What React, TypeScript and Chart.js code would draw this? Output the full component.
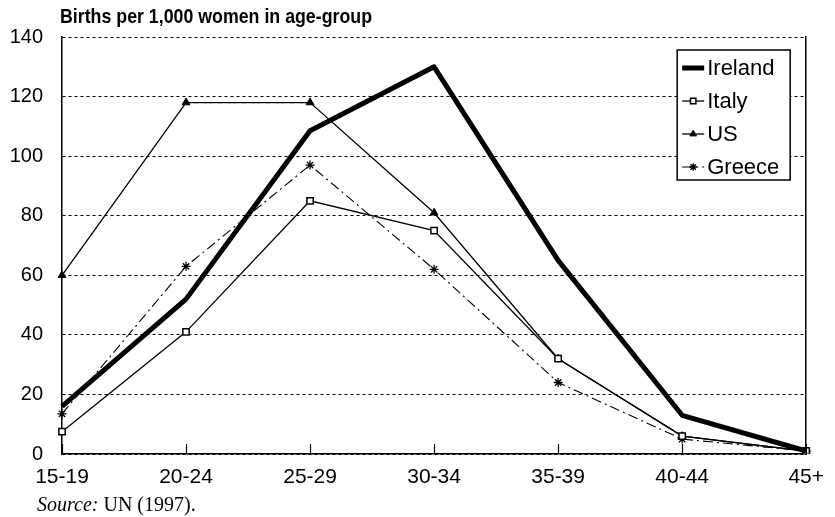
import React, { useEffect, useRef } from 'react';
import { Chart, registerables } from 'chart.js';
import { drawPoint } from 'chart.js/helpers';

Chart.register(...registerables);

const categories = ['15-19', '20-24', '25-29', '30-34', '35-39', '40-44', '45+'];
const irelandValues = [16, 52, 108.5, 130, 65, 13, 1];
const italyValues = [7.5, 41, 85, 75, 32, 6, 1];
const usValues = [60, 118, 118, 81, 32, 6, 1];
const greeceValues = [13.5, 63, 97, 62, 24, 5, 1];
const yMin = 0;
const yMax = 140;
const yStep = 20;
const titleText = 'Births per 1,000 women in age-group';
const sourceLabel = 'Source:';
const sourceText = ' UN (1997).';

const SANS = '"Liberation Sans", Arial, sans-serif';
const SERIF = '"Liberation Serif", "Times New Roman", serif';

const innerTicksPlugin = {
  id: 'innerTicks',
  afterDraw(chart: any) {
    const { ctx, chartArea } = chart;
    const xs = chart.scales.x;
    ctx.save();
    ctx.strokeStyle = '#000';
    ctx.lineWidth = 1.2;
    xs.ticks.forEach((_: any, i: number) => {
      const x = Math.round(xs.getPixelForTick(i)) + 0.5;
      ctx.beginPath();
      ctx.moveTo(x, chartArea.bottom);
      ctx.lineTo(x, chartArea.bottom - 10);
      ctx.stroke();
    });
    ctx.restore();
  },
};

const textPlugin = {
  id: 'extraText',
  afterDraw(chart: any) {
    const { ctx, chartArea } = chart;
    ctx.save();
    ctx.fillStyle = '#000';
    ctx.textBaseline = 'middle';
    ctx.textAlign = 'left';
    ctx.font = `bold 21px ${SANS}`;
    const tw = ctx.measureText(titleText).width;
    const sx = 312 / tw;
    ctx.save();
    ctx.translate(chartArea.left - 2, chartArea.top - 20);
    ctx.scale(sx, 1);
    ctx.fillText(titleText, 0, 0);
    ctx.restore();
    ctx.textBaseline = 'alphabetic';
    ctx.font = `italic 20px ${SERIF}`;
    ctx.fillText(sourceLabel, 37, 511);
    const w = ctx.measureText(sourceLabel).width;
    ctx.font = `20px ${SERIF}`;
    ctx.fillText(sourceText, 37 + w, 511);
    ctx.restore();
  },
};

const legendPlugin = {
  id: 'boxLegend',
  afterDraw(chart: any) {
    const { ctx, chartArea } = chart;
    const w = 113;
    const h = 130;
    const x0 = chartArea.right - 16 - w;
    const y0 = chartArea.top + 13;
    ctx.save();
    ctx.fillStyle = '#fff';
    ctx.fillRect(x0, y0, w, h);
    ctx.strokeStyle = '#000';
    ctx.lineWidth = 1.5;
    ctx.strokeRect(x0, y0, w, h);
    chart.data.datasets.forEach((ds: any, i: number) => {
      const cy = y0 + 18 + i * 33;
      ctx.save();
      ctx.strokeStyle = ds.borderColor;
      ctx.lineWidth = ds.borderWidth;
      ctx.setLineDash(ds.borderDash || []);
      ctx.beginPath();
      ctx.moveTo(x0 + 5, cy);
      ctx.lineTo(x0 + 27, cy);
      ctx.stroke();
      ctx.setLineDash([]);
      if (ds.pointRadius > 0) {
        ctx.fillStyle = ds.pointBackgroundColor;
        ctx.strokeStyle = ds.pointBorderColor;
        ctx.lineWidth = ds.pointBorderWidth;
        drawPoint(ctx, { pointStyle: ds.pointStyle, radius: ds.pointRadius * 0.85, rotation: 0, borderWidth: ds.pointBorderWidth } as any, x0 + 16, cy);
      }
      ctx.restore();
      ctx.fillStyle = '#000';
      ctx.font = `22px ${SANS}`;
      ctx.textBaseline = 'middle';
      ctx.fillText(ds.label, x0 + 30, cy + 1);
    });
    ctx.restore();
  },
};

export default function App() {
  const canvasRef = useRef<HTMLCanvasElement | null>(null);

  useEffect(() => {
    if (!canvasRef.current) return;
    const chart = new Chart(canvasRef.current, {
      type: 'line',
      data: {
        labels: categories,
        datasets: [
          {
            label: 'Ireland',
            data: irelandValues,
            borderColor: '#000',
            borderWidth: 5,
            pointRadius: 0,
            pointStyle: 'line',
            pointBackgroundColor: '#000',
            pointBorderColor: '#000',
            pointBorderWidth: 1,
            tension: 0,
            borderJoinStyle: 'round',
          } as any,
          {
            label: 'Italy',
            data: italyValues,
            borderColor: '#000',
            borderWidth: 1.3,
            pointRadius: 4.5,
            pointStyle: 'rect',
            pointBackgroundColor: '#fff',
            pointBorderColor: '#000',
            pointBorderWidth: 1.5,
            tension: 0,
          },
          {
            label: 'US',
            data: usValues,
            borderColor: '#000',
            borderWidth: 1.3,
            pointRadius: 4.5,
            pointStyle: 'triangle',
            pointBackgroundColor: '#000',
            pointBorderColor: '#000',
            pointBorderWidth: 1,
            tension: 0,
          },
          {
            label: 'Greece',
            data: greeceValues,
            borderColor: '#000',
            borderWidth: 1.1,
            borderDash: [10, 4, 2, 4],
            pointRadius: 4.5,
            pointStyle: 'star',
            pointBackgroundColor: '#000',
            pointBorderColor: '#000',
            pointBorderWidth: 1.3,
            tension: 0,
          },
        ],
      },
      options: {
        responsive: false,
        animation: false,
        layout: { padding: { left: 0, top: 37, right: 26, bottom: 0 } },
        plugins: {
          legend: { display: false },
          title: { display: false },
          tooltip: { enabled: false },
        },
        scales: {
          x: {
            type: 'category',
            offset: false,
            afterFit: (s: any) => { s.height = 63; },
            grid: { display: false, drawTicks: false },
            border: { display: true, color: '#000', width: 1.5 },
            ticks: { color: '#000', font: { family: SANS, size: 21 }, padding: 11, maxRotation: 0, autoSkip: false },
          },
          y: {
            min: yMin,
            max: yMax,
            afterFit: (s: any) => { s.width = 62; },
            grid: { color: '#000', lineWidth: 1, drawTicks: false },
            border: { display: true, color: '#000', width: 1.5, dash: [3, 3] },
            ticks: { stepSize: yStep, color: '#000', font: { family: SANS, size: 20 }, padding: 19 },
          } as any,
          y2: {
            position: 'right',
            min: yMin,
            max: yMax,
            afterFit: (s: any) => { s.width = 0; },
            grid: { display: false, drawTicks: false },
            border: { display: true, color: '#000', width: 1.5 },
            ticks: { display: false },
          },
        },
      },
      plugins: [innerTicksPlugin, legendPlugin, textPlugin],
    } as any);
    return () => chart.destroy();
  }, []);

  return (
    <div style={{ position: 'fixed', left: 0, top: 0, width: 835, height: 517, background: '#fff' }}>
      <canvas ref={canvasRef} width={835} height={517} />
    </div>
  );
}
